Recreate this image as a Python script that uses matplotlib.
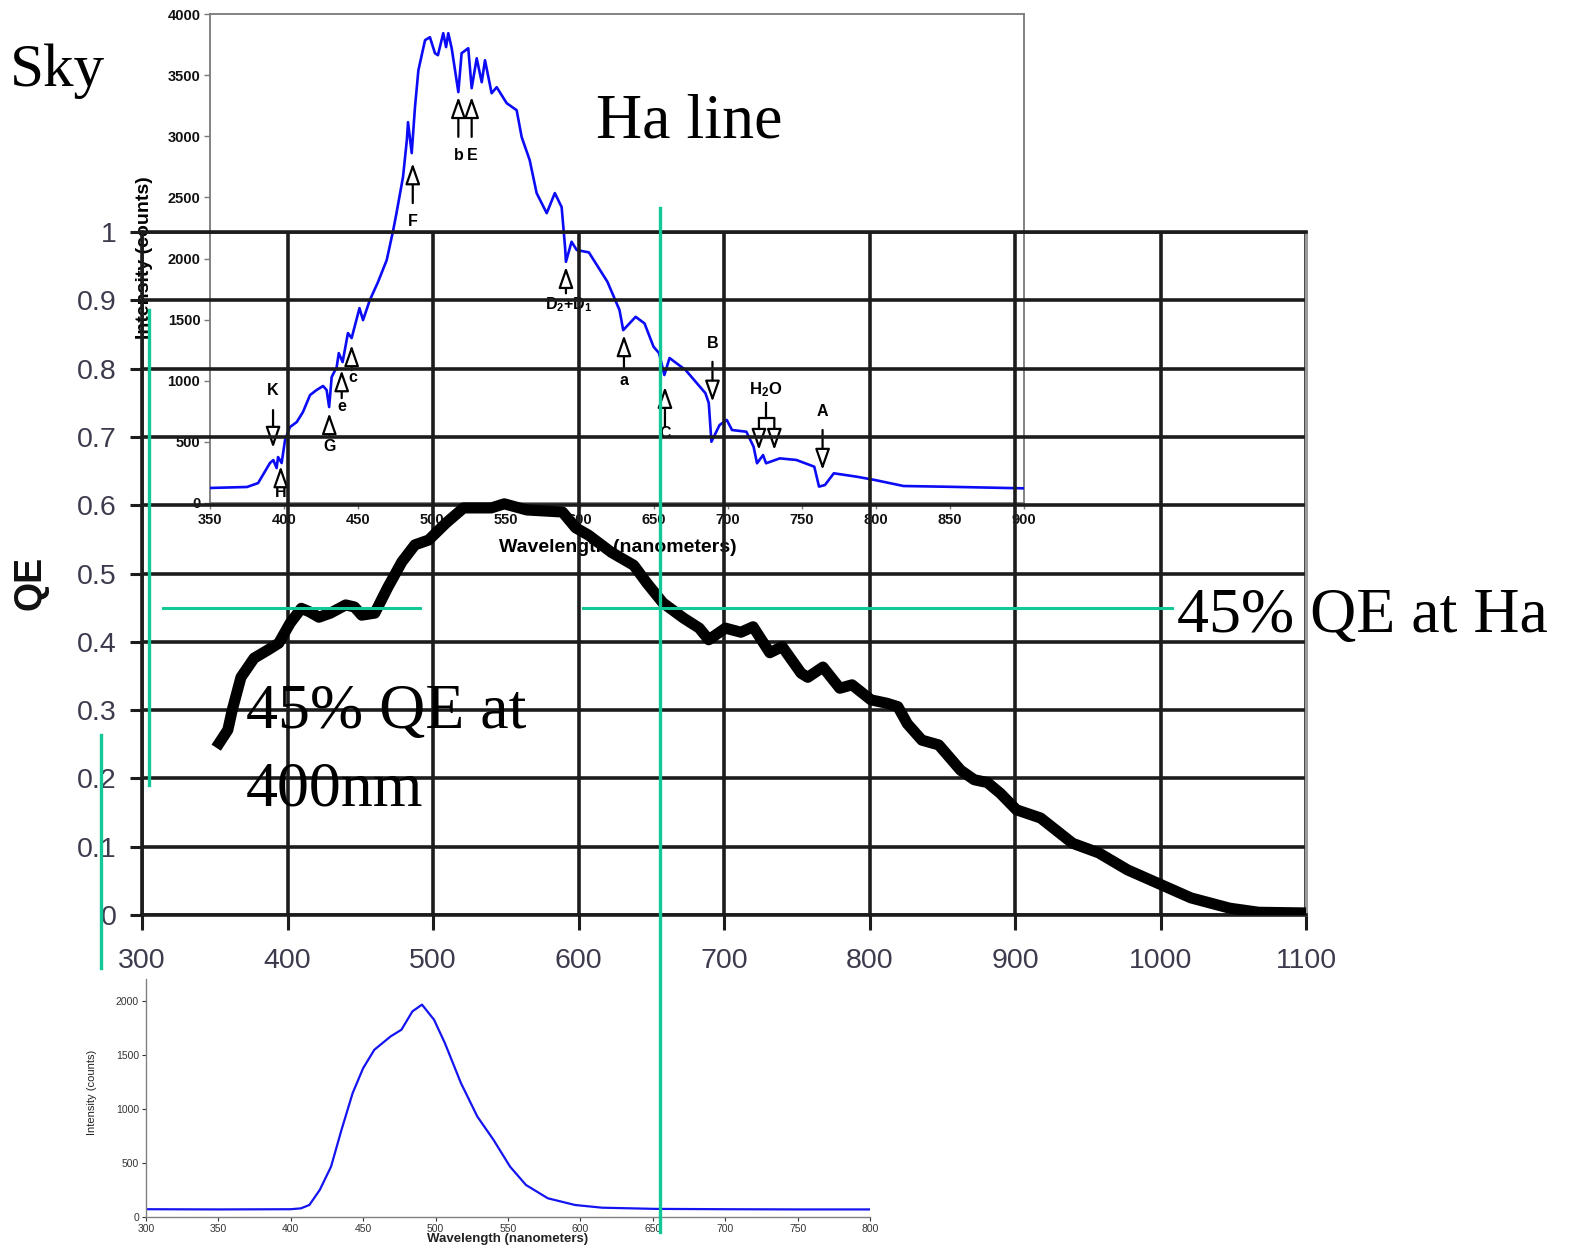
import matplotlib
matplotlib.use('Agg')
import matplotlib.pyplot as plt

plt.rcParams['font.family'] = ['Liberation Sans', 'DejaVu Sans']
plt.rcParams['mathtext.fontset'] = 'custom'
plt.rcParams['mathtext.rm'] = 'Liberation Sans'
plt.rcParams['mathtext.bf'] = 'Liberation Sans:bold'

# ---------------- data ----------------
# CCD quantum efficiency curve
qe_wl = [351, 359, 362, 368, 377, 386.5, 394, 401.7, 409.5, 415,
         421.6, 429.5, 440, 446, 451, 460, 469, 478.6, 487.6, 497,
         509, 521, 540, 549, 564.5, 589, 598, 607, 622.6, 638,
         647, 658, 672, 683, 689.5, 701, 711.6, 720, 731.5, 740,
         753, 757.6, 768, 779.6, 788, 801, 812, 819.5, 826, 836,
         847.6, 862.6, 872, 881, 890, 901, 917.6, 939.6, 957.5, 977.4,
         1000.8, 1021, 1047.5, 1067.5, 1100]
qe = [0.245, 0.271, 0.300, 0.348, 0.376, 0.388, 0.398, 0.427, 0.449, 0.444,
      0.436, 0.442, 0.454, 0.451, 0.439, 0.442, 0.480, 0.517, 0.542, 0.549,
      0.574, 0.596, 0.596, 0.602, 0.593, 0.590, 0.567, 0.556, 0.531, 0.512,
      0.486, 0.457, 0.435, 0.420, 0.403, 0.420, 0.414, 0.422, 0.384, 0.393,
      0.354, 0.348, 0.363, 0.332, 0.337, 0.315, 0.310, 0.305, 0.280, 0.256,
      0.249, 0.212, 0.198, 0.194, 0.178, 0.154, 0.142, 0.105, 0.091, 0.066,
      0.044, 0.025, 0.010, 0.004, 0.003]
qe_xticks = [300, 400, 500, 600, 700, 800, 900, 1000, 1100]
qe_yticks = [0, 0.1, 0.2, 0.3, 0.4, 0.5, 0.6, 0.7, 0.8, 0.9, 1.0]
qe_ylabels = ['0', '0.1', '0.2', '0.3', '0.4', '0.5', '0.6', '0.7', '0.8', '0.9', '1']

# Sky (solar) spectrum
sky_wl = [350, 375, 382.5, 390.5, 392.8, 395, 396, 398.4, 400.7, 404,
          408.6, 412.8, 417.6, 422, 426.4, 428.8, 430.5, 432.2, 435.6, 437,
          439.6, 443.2, 445.7, 451, 453.4, 458, 463.5, 469.4, 473.8, 476,
          480.4, 483, 483.8, 486.3, 488.5, 490.8, 495.3, 498.6, 502, 504,
          507.6, 509.5, 511, 513.3, 517.8, 520, 524.5, 526.8, 530.2, 533.6,
          535.8, 540.3, 543.7, 550.5, 557.2, 560.6, 566, 570.7, 577.5, 583,
          587.6, 589.9, 590.5, 594.3, 597.8, 606, 618.5, 626.7, 629.2, 637.6,
          643.6, 649.7, 653.4, 657, 660.5, 671.4, 684.7, 687, 688.8, 694.3,
          699.2, 702.7, 712.4, 717.3, 719.6, 723.7, 725.7, 735, 746.2, 758.3,
          761.5, 765.5, 771.5, 787, 799.3, 818.6, 847.6, 900]
sky = [123, 131, 163, 327, 351, 286, 376, 327, 515, 621,
       662, 744, 883, 924, 957, 924, 785, 1030, 1112, 1226,
       1153, 1390, 1349, 1594, 1496, 1660, 1807, 1987, 2232, 2371,
       2666, 2968, 3115, 2862, 3238, 3540, 3786, 3810, 3679, 3663,
       3843, 3729, 3843, 3720, 3361, 3679, 3720, 3393, 3638, 3442,
       3622, 3352, 3401, 3270, 3213, 2993, 2805, 2535, 2371, 2535,
       2420, 2093, 1973, 2137, 2069, 2050, 1810, 1578, 1414, 1523,
       1469, 1278, 1226, 1047, 1186, 1087, 899, 818, 501, 638,
       679, 597, 583, 460, 325, 392, 325, 365, 352, 297,
       134, 147, 243, 215, 188, 139, 133, 120]

# Fraunhofer line markers (inset data coordinates)
line_names = ['K', 'H', 'G', 'e', 'c', 'F', 'b', 'E',
              r'$\mathbf{D_2{+}D_1}$', 'a', 'C', 'B', 'A']
line_text_x = [392.6, 397.8, 430.6, 439.0, 446.8, 487.0, 517.8, 527.2, 592.1, 629.7, 657.4, 689.5, 763.9]
line_text_y = [924, 84, 460, 788, 1025, 2300, 2845, 2845, 1619, 1006, 570, 1306, 747]
line_arrow_x = [392.6, 397.8, 430.6, 439.0, 445.7, 487.0, 517.8, 526.8, 590.5, 629.7, 657.4, 689.5, 763.9]
line_arrow_from = [760, 188, 556, 858, 1087, 2453, 2995, 2995, 1715, 1101, 624, 1155, 597]
line_arrow_to = [450, 302, 736, 1087, 1292, 2780, 3322, 3322, 1932, 1374, 951, 828, 270]
h2o_text = (725.7, 924)
h2o_x = [720.9, 731.3]
h2o_stem = (725.8, 818, 692.6)
h2o_head_y = 433

# Blue LED spectrum
led_wl = [300, 350, 400, 407, 412.8, 420, 427.8, 435, 442.7, 450,
          457.7, 469, 476.4, 484, 490.6, 498.9, 506.4, 517.5, 528.8, 540,
          551.4, 562.4, 577.5, 596.3, 615, 652, 700, 750, 800]
led = [72, 70, 72, 80, 111, 250, 466, 805, 1145, 1377,
       1546, 1670, 1731, 1901, 1963, 1824, 1608, 1238, 929, 713,
       466, 296, 173, 111, 86, 75, 72, 70, 70]

# green guide lines (main QE axes data coords)
ha_nm = 656
qe_level = 0.45
guide_h = [(314.4, 491.0), (603.0, 1007.6)]
guide_v = [(ha_nm, 1.035, -0.464), (304.8, 0.886, 0.19), (271.8, 0.2635, -0.0776)]

# ---------------- figure ----------------
W, H = 1569, 1249
fig = plt.figure(figsize=(W / 100, H / 100), dpi=100)
fig.patch.set_facecolor('white')


def rect(l, t, r, b):
    return [l / W, 1 - b / H, (r - l) / W, (b - t) / H]


GREEN = '#12c896'
GRID = '#1c1c1c'
TICKC = '#3b3b4d'

# ---- bottom LED spectrum ----
axb = fig.add_axes(rect(146, 979, 870, 1217))
axb.set_zorder(1)
axb.plot(led_wl, led, color='#1414f0', lw=1.6)
axb.set_xlim(300, 800)
axb.set_ylim(0, 2200)
axb.set_xticks(list(range(300, 801, 50)))
axb.set_yticks(list(range(0, 2001, 500)))
for s in ['top', 'right']:
    axb.spines[s].set_visible(False)
for s in ['left', 'bottom']:
    axb.spines[s].set_color('#808080')
    axb.spines[s].set_linewidth(1.0)
axb.tick_params(labelsize=7.5, colors='#333333', length=3, width=0.8, pad=2)
axb.text(0.5, -0.092, 'Wavelength (nanometers)', transform=axb.transAxes,
         ha='center', va='center', fontsize=9.5, fontweight='bold', color='#222222')
axb.text(-0.0746, 0.525, 'Intensity (counts)', transform=axb.transAxes,
         ha='center', va='center', rotation=90, fontsize=8, color='#222222')

# ---- sky spectrum inset ----
axi = fig.add_axes(rect(210, 14, 1024, 503))
axi.set_zorder(2)
axi.patch.set_alpha(0)
axi.plot(sky_wl, sky, color='#0b0bf5', lw=1.9, zorder=3)
axi.set_xlim(350, 900)
axi.set_ylim(0, 4000)
axi.set_xticks(list(range(350, 901, 50)))
axi.set_yticks(list(range(0, 4001, 500)))
for s in axi.spines.values():
    s.set_color('#7a7a7a')
    s.set_linewidth(1.3)
axi.tick_params(length=4, width=1, colors='#7a7a7a', pad=3)
for lab in axi.get_xticklabels() + axi.get_yticklabels():
    lab.set_fontsize(10.5)
    lab.set_fontweight('bold')
    lab.set_color('#111111')
axi.text(-0.080, 0.501, 'Intensity (counts)', transform=axi.transAxes,
         ha='center', va='center', rotation=90, fontsize=14, fontweight='bold')
axi.text(0.5006, -0.092, 'Wavelength (nanometers)', transform=axi.transAxes,
         ha='center', va='center', fontsize=14, fontweight='bold')

arrow_kw = dict(arrowstyle='-|>,head_width=0.28,head_length=0.8', fc='white',
                ec='black', lw=1.6, shrinkA=0, shrinkB=0, mutation_scale=16)
for name, tx, ty, ax_, a0, a1 in zip(line_names, line_text_x, line_text_y,
                                      line_arrow_x, line_arrow_from, line_arrow_to):
    axi.text(tx, ty, name, ha='center', va='center', fontsize=11.5,
             fontweight='bold', zorder=5)
    axi.annotate('', xy=(ax_, a1), xytext=(ax_, a0), arrowprops=arrow_kw,
                 annotation_clip=False, zorder=5)
axi.text(h2o_text[0], h2o_text[1], r'$\mathbf{H_2O}$', ha='center', va='center',
         fontsize=12, zorder=5)
axi.plot([h2o_stem[0], h2o_stem[0]], [h2o_stem[1], h2o_stem[2]], color='black', lw=1.6)
axi.plot(h2o_x, [h2o_stem[2], h2o_stem[2]], color='black', lw=1.6)
for hx in h2o_x:
    axi.annotate('', xy=(hx, h2o_head_y), xytext=(hx, h2o_stem[2]),
                 arrowprops=arrow_kw, annotation_clip=False, zorder=5)

# ---- main QE chart ----
ax = fig.add_axes(rect(142, 232, 1306, 915))
ax.set_zorder(3)
ax.patch.set_alpha(0)
ax.set_xlim(300, 1100)
ax.set_ylim(0, 1)
ax.set_xticks(qe_xticks)
ax.set_yticks(qe_yticks)
ax.set_yticklabels(qe_ylabels)
ax.grid(True, color=GRID, lw=2.6, zorder=1)
ax.set_axisbelow(True)
for s in ['left', 'top', 'bottom']:
    ax.spines[s].set_color(GRID)
    ax.spines[s].set_linewidth(2.6)
ax.spines['right'].set_color('#9a9a9a')
ax.spines['right'].set_linewidth(2.2)
ax.tick_params(axis='x', length=11, width=2.2, color=GRID, pad=13,
               labelsize=20.5, labelcolor=TICKC)
ax.tick_params(axis='y', length=9, width=2.2, color=GRID, pad=9,
               labelsize=20.5, labelcolor=TICKC)
ax.plot(qe_wl, qe, color='black', lw=8, zorder=6, solid_joinstyle='round',
        solid_capstyle='butt')
ax.text(-0.0962, 0.486, 'QE', transform=ax.transAxes, ha='center', va='center',
        rotation=90, fontsize=27, fontweight='bold', color='#111111')

# green guide lines
for x0, x1 in guide_h:
    ax.plot([x0, x1], [qe_level, qe_level], color=GREEN, lw=2.2, clip_on=False, zorder=8)
for xv, y0, y1 in guide_v:
    ax.plot([xv, xv], [y0, y1], color=GREEN, lw=2.4, clip_on=False, zorder=8)

# annotation texts (Times-like)
serif = ['Liberation Serif', 'DejaVu Serif']
fig.text(10 / W, 1 - 86 / H, 'Sky', fontsize=44, family=serif, va='baseline', ha='left')
fig.text(596 / W, 1 - 137 / H, 'Ha line', fontsize=46, family=serif, va='baseline', ha='left')
fig.text(246 / W, 1 - 728 / H, '45% QE at', fontsize=46, family=serif, va='baseline',
         ha='left', zorder=10)
fig.text(246 / W, 1 - 805 / H, '400nm', fontsize=46, family=serif, va='baseline',
         ha='left', zorder=10)
fig.text(1177 / W, 1 - 632 / H, '45% QE at Ha', fontsize=46, family=serif,
         va='baseline', ha='left', zorder=10)

fig.savefig('out.png', dpi=100, facecolor='white')
